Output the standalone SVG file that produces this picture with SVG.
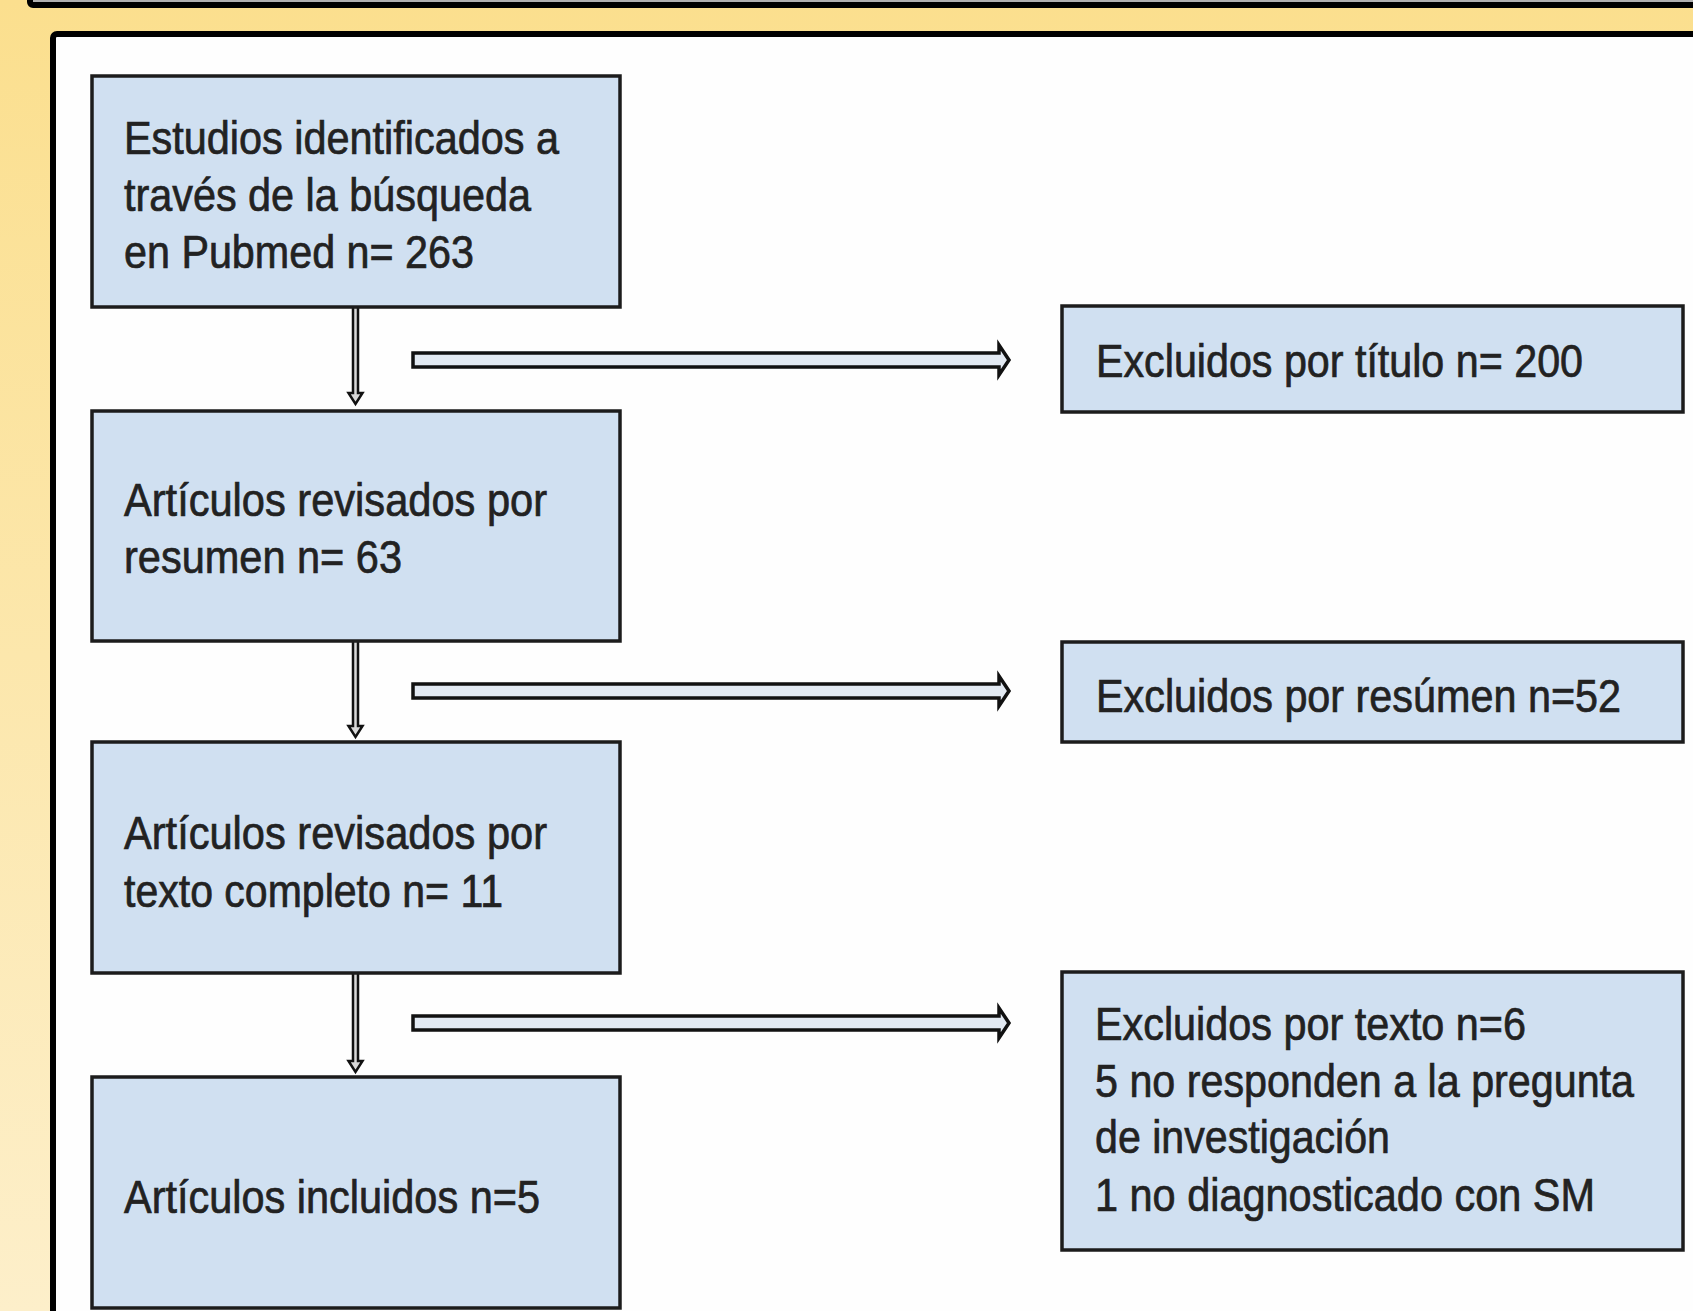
<svg xmlns="http://www.w3.org/2000/svg" width="1693" height="1311" viewBox="0 0 1693 1311">
<defs>
<linearGradient id="bg" x1="0" y1="0" x2="0" y2="1">
<stop offset="0" stop-color="#fbdf8e"/>
<stop offset="1" stop-color="#fdefca"/>
</linearGradient>
<style>
.box{fill:#d0e0f1;stroke:#1c1c1c;stroke-width:3.5}
.t{font-family:"Liberation Sans",Arial,Helvetica,sans-serif;font-size:46px;fill:#222;stroke:#222;stroke-width:0.7}
.ha{fill:#e2e9f2;stroke:#111;stroke-width:3.5;stroke-linejoin:miter}
.va{fill:#d8d8d8;stroke:#111;stroke-width:2.5}
</style>
</defs>
<rect x="0" y="0" width="1693" height="1311" fill="url(#bg)"/>
<rect x="30" y="-30" width="1700" height="35" fill="#b0b0b0" stroke="#000" stroke-width="6" rx="3"/>
<rect x="53" y="34" width="1700" height="1400" fill="#fefefe" stroke="#000" stroke-width="6" rx="4"/>

<g id="connectors">
<path class="va" d="M353,307 L353,393 L348.5,393 L355.5,404 L362.5,393 L358,393 L358,307"/>
<path class="va" d="M353,641 L353,726 L348.5,726 L355.5,737 L362.5,726 L358,726 L358,641"/>
<path class="va" d="M353,973 L353,1061 L348.5,1061 L355.5,1072 L362.5,1061 L358,1061 L358,973"/>
<path class="ha" d="M413,353 L999,353 L999,345 L1009,360 L999,375 L999,367 L413,367 Z"/>
<path class="ha" d="M413,684 L999,684 L999,676 L1009,691 L999,706 L999,698 L413,698 Z"/>
<path class="ha" d="M413,1016 L999,1016 L999,1008 L1009,1023 L999,1038 L999,1030 L413,1030 Z"/>
</g>

<g id="n1">
<rect class="box" x="92" y="76" width="528" height="231"/>
<text class="t" x="124" y="154" textLength="435" lengthAdjust="spacingAndGlyphs">Estudios identificados a</text>
<text class="t" x="124" y="211" textLength="407" lengthAdjust="spacingAndGlyphs">través de la búsqueda</text>
<text class="t" x="124" y="268" textLength="350" lengthAdjust="spacingAndGlyphs">en Pubmed n= 263</text>
</g>
<g id="n2">
<rect class="box" x="92" y="411" width="528" height="230"/>
<text class="t" x="124" y="516" textLength="423" lengthAdjust="spacingAndGlyphs">Artículos revisados por</text>
<text class="t" x="124" y="573" textLength="278" lengthAdjust="spacingAndGlyphs">resumen n= 63</text>
</g>
<g id="n3">
<rect class="box" x="92" y="742" width="528" height="231"/>
<text class="t" x="124" y="849" textLength="423" lengthAdjust="spacingAndGlyphs">Artículos revisados por</text>
<text class="t" x="124" y="907" textLength="379" lengthAdjust="spacingAndGlyphs">texto completo n= 11</text>
</g>
<g id="n4">
<rect class="box" x="92" y="1077" width="528" height="231"/>
<text class="t" x="124" y="1213" textLength="416" lengthAdjust="spacingAndGlyphs">Artículos incluidos n=5</text>
</g>
<g id="r1">
<rect class="box" x="1062" y="306" width="621" height="106"/>
<text class="t" x="1096" y="377" textLength="487" lengthAdjust="spacingAndGlyphs">Excluidos por título n= 200</text>
</g>
<g id="r2">
<rect class="box" x="1062" y="642" width="621" height="100"/>
<text class="t" x="1096" y="712" textLength="525" lengthAdjust="spacingAndGlyphs">Excluidos por resúmen n=52</text>
</g>
<g id="r3">
<rect class="box" x="1062" y="972" width="621" height="278"/>
<text class="t" x="1095" y="1040" textLength="431" lengthAdjust="spacingAndGlyphs">Excluidos por texto n=6</text>
<text class="t" x="1095" y="1097" textLength="539" lengthAdjust="spacingAndGlyphs">5 no responden a la pregunta</text>
<text class="t" x="1095" y="1153" textLength="295" lengthAdjust="spacingAndGlyphs">de investigación</text>
<text class="t" x="1095" y="1211" textLength="500" lengthAdjust="spacingAndGlyphs">1 no diagnosticado con SM</text>
</g>
</svg>
